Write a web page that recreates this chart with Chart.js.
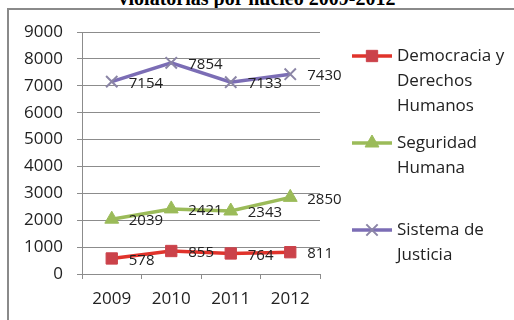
<!DOCTYPE html>
<html>
<head>
<meta charset="utf-8">
<script src="https://cdn.jsdelivr.net/npm/chart.js@4/dist/chart.umd.min.js"></script>
<style>
  html, body { margin:0; padding:0; background:#fff; overflow:hidden; }
  #wrap { position:relative; width:514px; height:320px; }
  #title { position:absolute; left:0; top:-12px; width:514px; text-align:center;
           font: bold 20px "Liberation Serif", "Times New Roman", serif; line-height:20px; color:#000; white-space:nowrap; }
  canvas { position:absolute; left:0; top:0; }
</style>
</head>
<body>
<div id="wrap">
  <div id="title">violatorias por núcleo 2009-2012</div>
  <canvas id="c" width="514" height="320"></canvas>
</div>
<script>
const categories = ["2009", "2010", "2011", "2012"];
const democracia = [578, 855, 764, 811];
const seguridad = [2039, 2421, 2343, 2850];
const sistema = [7154, 7854, 7133, 7430];
const yTicks = [0, 1000, 2000, 3000, 4000, 5000, 6000, 7000, 8000, 9000];
const legendLines = [
  ["Democracia y", "Derechos", "Humanos"],
  ["Seguridad", "Humana"],
  ["Sistema de", "Justicia"]
];

const FONT = '"Open Sans", "Liberation Sans", sans-serif';

const frame = {
  id: 'frame',
  beforeDraw(chart) {
    const ctx = chart.ctx;
    ctx.save();
    ctx.fillStyle = '#8a8a8a';
    ctx.fillRect(7, 8, 507, 2);
    ctx.fillRect(7, 8, 2, 312);
    ctx.restore();
  }
};

const dataLabels = {
  id: 'dataLabels',
  afterDatasetsDraw(chart) {
    const ctx = chart.ctx;
    ctx.save();
    ctx.font = '15px ' + FONT;
    ctx.fillStyle = '#222';
    ctx.textAlign = 'left';
    ctx.textBaseline = 'middle';
    chart.data.datasets.forEach((ds, i) => {
      const meta = chart.getDatasetMeta(i);
      meta.data.forEach((pt, j) => {
        ctx.fillText(String(ds.data[j]), pt.x + 17, pt.y + 2);
      });
    });
    ctx.restore();
  }
};

const sideLegend = {
  id: 'sideLegend',
  afterDraw(chart) {
    const ctx = chart.ctx;
    const x0 = chart.chartArea.right + 32;
    const lineLen = 40;
    const tx = x0 + lineLen + 5;
    const lh = 25;
    const itemStep = 87;
    ctx.save();
    chart.data.datasets.forEach((ds, i) => {
      const y = 56 + i * itemStep;
      ctx.strokeStyle = ds.borderColor;
      ctx.lineWidth = ds.borderWidth;
      ctx.beginPath();
      ctx.moveTo(x0, y);
      ctx.lineTo(x0 + lineLen, y);
      ctx.stroke();
      ctx.fillStyle = ds.pointBackgroundColor;
      ctx.strokeStyle = ds.pointBorderColor;
      ctx.lineWidth = ds.pointBorderWidth;
      Chart.helpers.drawPoint(ctx, {pointStyle: ds.pointStyle, radius: ds.pointRadius, rotation: 0, borderWidth: ds.pointBorderWidth}, x0 + lineLen / 2, y);
      ctx.font = '17px ' + FONT;
      ctx.fillStyle = '#222';
      ctx.textAlign = 'left';
      ctx.textBaseline = 'middle';
      legendLines[i].forEach((t, k) => ctx.fillText(t, tx, y + k * lh));
    });
    ctx.restore();
  }
};

new Chart(document.getElementById('c'), {
  type: 'line',
  data: {
    labels: categories,
    datasets: [
      { label: 'Democracia y Derechos Humanos', data: democracia,
        borderColor: '#E0332B', borderWidth: 3.5, pointStyle: 'rect', pointRadius: 8,
        pointBackgroundColor: '#CB424A', pointBorderColor: '#CB424A', pointBorderWidth: 1 },
      { label: 'Seguridad Humana', data: seguridad,
        borderColor: '#9BBB59', borderWidth: 3.5, pointStyle: 'triangle', pointRadius: 8,
        pointBackgroundColor: '#9BBB59', pointBorderColor: '#9BBB59', pointBorderWidth: 1 },
      { label: 'Sistema de Justicia', data: sistema,
        borderColor: '#7B6DB5', borderWidth: 3.5, pointStyle: 'crossRot', pointRadius: 8,
        pointBackgroundColor: '#8B85A6', pointBorderColor: '#8B85A6', pointBorderWidth: 2 }
    ]
  },
  options: {
    responsive: false,
    animation: false,
    layout: { padding: { left: 0, right: 194, top: 32, bottom: 0 } },
    plugins: { legend: { display: false }, title: { display: false }, tooltip: { enabled: false } },
    elements: { line: { tension: 0 } },
    scales: {
      x: {
        type: 'category',
        offset: true,
        grid: { offset: true, drawOnChartArea: false, drawTicks: true, tickLength: 5, color: '#8c8c8c' },
        border: { color: '#8c8c8c', width: 1 },
        ticks: { font: { size: 17, family: FONT }, color: '#222', padding: 10, maxRotation: 0 },
        afterFit(s) { s.height = 46; }
      },
      y: {
        min: 0, max: 9000,
        afterBuildTicks(s) { s.ticks = yTicks.map(v => ({ value: v })); },
        grid: { color: '#8c8c8c', drawTicks: true, tickLength: 5 },
        border: { color: '#8c8c8c', width: 1 },
        ticks: { font: { size: 17, family: FONT }, color: '#222', padding: 14,
                 callback: (v) => String(v) },
        afterFit(s) { s.width = 82; }
      }
    }
  },
  plugins: [frame, dataLabels, sideLegend]
});
</script>
</body>
</html>
